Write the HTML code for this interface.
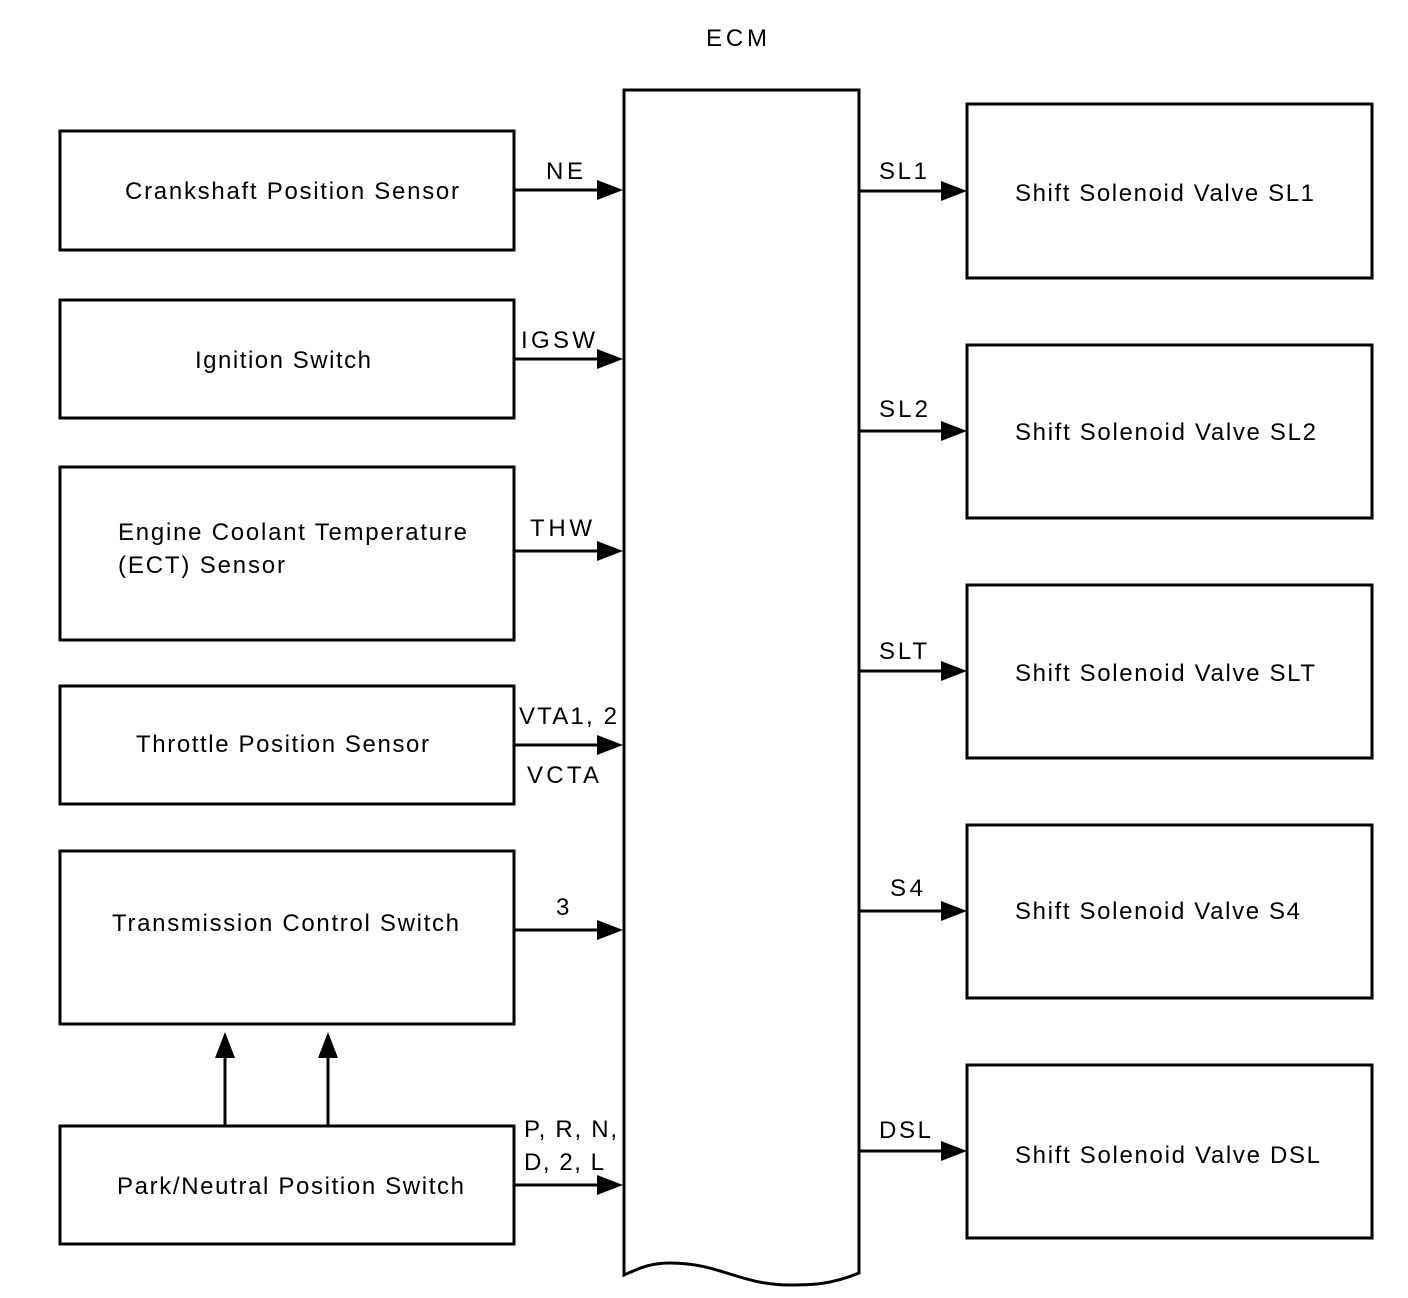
<!DOCTYPE html>
<html><head><meta charset="utf-8"><style>
html,body{margin:0;padding:0;background:#fff;}
svg{display:block;}
text{font-family:"Liberation Sans",Arial,sans-serif;font-size:24px;fill:#000;}
</style></head><body>
<svg width="1408" height="1298" viewBox="0 0 1408 1298" xmlns="http://www.w3.org/2000/svg">
<g fill="none" stroke="#000" stroke-width="3">
<rect x="60" y="131" width="454" height="119"/>
<rect x="60" y="300" width="454" height="118"/>
<rect x="60" y="467" width="454" height="173"/>
<rect x="60" y="686" width="454" height="118"/>
<rect x="60" y="851" width="454" height="173"/>
<rect x="60" y="1126" width="454" height="118"/>
<rect x="967" y="104" width="405" height="174"/>
<rect x="967" y="345" width="405" height="173"/>
<rect x="967" y="585" width="405" height="173"/>
<rect x="967" y="825" width="405" height="173"/>
<rect x="967" y="1065" width="405" height="173"/>
<path d="M624 1275 L624 90 L859 90 L859 1273 C830 1285 810 1285 790 1285 C740 1285 720 1263 670 1263 C650 1263 640 1268 624 1275 Z"/>
<path d="M514 190H600 M514 359H600 M514 551H600 M514 745H600 M514 930H600 M514 1185H600"/>
<path d="M859 191H944 M859 431H944 M859 671H944 M859 911H944 M859 1151H944"/>
<path d="M225 1126V1055 M328 1126V1055"/>
</g>
<g fill="#000">
<polygon points="597,180 623,190 597,200"/>
<polygon points="597,349 623,359 597,369"/>
<polygon points="597,541 623,551 597,561"/>
<polygon points="597,735 623,745 597,755"/>
<polygon points="597,920 623,930 597,940"/>
<polygon points="597,1175 623,1185 597,1195"/>
<polygon points="941,181 967,191 941,201"/>
<polygon points="941,421 967,431 941,441"/>
<polygon points="941,661 967,671 941,681"/>
<polygon points="941,901 967,911 941,921"/>
<polygon points="941,1141 967,1151 941,1161"/>
<polygon points="215,1058 225,1032 235,1058"/>
<polygon points="318,1058 328,1032 338,1058"/>
</g>
<g>
<text x="706" y="46" textLength="61" lengthAdjust="spacing">ECM</text>
<text x="125" y="199" textLength="334" lengthAdjust="spacing">Crankshaft Position Sensor</text>
<text x="195" y="368" textLength="176" lengthAdjust="spacing">Ignition Switch</text>
<text x="118" y="540" textLength="349" lengthAdjust="spacing">Engine Coolant Temperature</text>
<text x="118" y="573" textLength="167" lengthAdjust="spacing">(ECT) Sensor</text>
<text x="136" y="752" textLength="293" lengthAdjust="spacing">Throttle Position Sensor</text>
<text x="112" y="931" textLength="347" lengthAdjust="spacing">Transmission Control Switch</text>
<text x="117" y="1194" textLength="347" lengthAdjust="spacing">Park/Neutral Position Switch</text>
<text x="546" y="179" textLength="37" lengthAdjust="spacing">NE</text>
<text x="521" y="348" textLength="74" lengthAdjust="spacing">IGSW</text>
<text x="530" y="536" textLength="62" lengthAdjust="spacing">THW</text>
<text x="519" y="724" textLength="98" lengthAdjust="spacing">VTA1, 2</text>
<text x="527" y="783" textLength="72" lengthAdjust="spacing">VCTA</text>
<text x="556" y="915" textLength="15" lengthAdjust="spacing">3</text>
<text x="524" y="1137" textLength="93" lengthAdjust="spacing">P, R, N,</text>
<text x="524" y="1170" textLength="80" lengthAdjust="spacing">D, 2, L</text>
<text x="879" y="179" textLength="48" lengthAdjust="spacing">SL1</text>
<text x="879" y="417" textLength="49" lengthAdjust="spacing">SL2</text>
<text x="879" y="659" textLength="48" lengthAdjust="spacing">SLT</text>
<text x="890" y="896" textLength="33" lengthAdjust="spacing">S4</text>
<text x="879" y="1138" textLength="52" lengthAdjust="spacing">DSL</text>
<text x="1015" y="201" textLength="299" lengthAdjust="spacing">Shift Solenoid Valve SL1</text>
<text x="1015" y="440" textLength="301" lengthAdjust="spacing">Shift Solenoid Valve SL2</text>
<text x="1015" y="681" textLength="300" lengthAdjust="spacing">Shift Solenoid Valve SLT</text>
<text x="1015" y="919" textLength="285" lengthAdjust="spacing">Shift Solenoid Valve S4</text>
<text x="1015" y="1163" textLength="305" lengthAdjust="spacing">Shift Solenoid Valve DSL</text>
</g>
</svg>
</body></html>
